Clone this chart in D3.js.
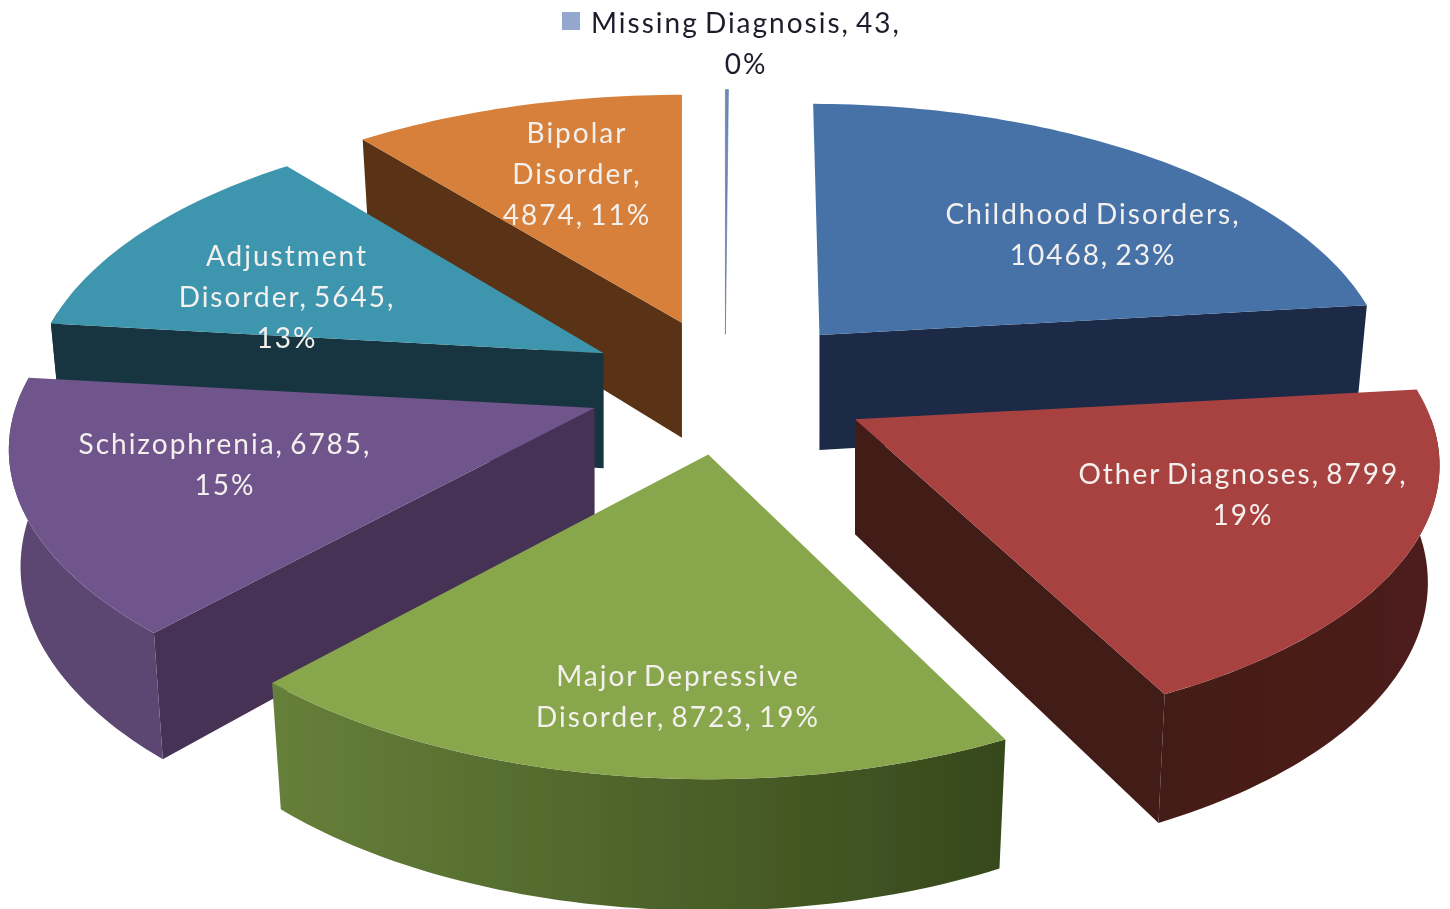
<!DOCTYPE html>
<html>
<head>
<meta charset="utf-8">
<script src="https://cdn.jsdelivr.net/npm/d3@7"></script>
<style>
  html, body { margin: 0; padding: 0; background: #fff; }
  svg { display: block; }
  text { font-family: Lato, "Open Sans", sans-serif; font-size: 28px; text-anchor: middle; letter-spacing: 2px; word-spacing: -3px; }
</style>
</head>
<body>
<div id="chart"></div>
<script>
// Chart data, clockwise from 12 o'clock
const categories = ["Missing Diagnosis", "Childhood Disorders", "Other Diagnoses", "Major Depressive Disorder", "Schizophrenia", "Adjustment Disorder", "Bipolar Disorder"];
const counts = [43, 10468, 8799, 8723, 6785, 5645, 4874];
const percents = [0, 23, 19, 19, 15, 13, 11];
const labelLines = [
    ["Missing Diagnosis, 43,", "0%"],
    ["Childhood Disorders,", "10468, 23%"],
    ["Other Diagnoses, 8799,", "19%"],
    ["Major Depressive", "Disorder, 8723, 19%"],
    ["Schizophrenia, 6785,", "15%"],
    ["Adjustment", "Disorder, 5645,", "13%"],
    ["Bipolar", "Disorder,", "4874, 11%"]
];

// Colours per category: top face, cut wall, rim left, rim right
const topColors = ["#6f8bbd", "#4672a8", "#a84341", "#88a64b", "#6f548c", "#3e96ae", "#d6803a"];
const wallColors = ["#6f8bbd", "#1a2b47", "#431a18", "#374a1c", "#453255", "#17363f", "#5a3312"];
const rimLeft = ["#6f8bbd", "#1a2b47", "#431a18", "#66803a", "#5b4672", "#17363f", "#5a3312"];
const rimRight = ["#6f8bbd", "#1a2b47", "#4e1c1a", "#36481b", "#5b4672", "#17363f", "#5a3312"];

const width = 1450, height = 909;

// Fake 3D: the pie sits on a tilted plane with some perspective
const center = { x: 725, y: 385 };
const radiusX = d3.scaleLinear().domain([-1, 1]).range([-585, 585]);
const radiusY = d3.scaleLinear().domain([-1, 1]).range([-276, 276]);
const perspective = 0.15;
const explode = 0.235;
const depth = 115;

// Per slice fine tuning, the original render is not a clean projection
const apexNudge = [[0, 12], [5, -3], [7, 3], [3, 3], [0, 0], [-3, -1], [1, -3]];
const sliceScale = [[1, 1.02], [0.96, 0.963], [0.985, 0.965], [0.98, 1], [0.99, 0.985], [0.967, 0.97], [0.975, 0.95]];
const sliceShear = [0, 0.04, 0.04, 0, 0, 0, 0];

function project(angle, r) {
    const u = Math.sin(angle) * r;
    const v = -Math.cos(angle) * r;
    const w = 1 / (1 - perspective * v);
    return { x: radiusX(u) * w, y: radiusY(v) * w };
}

const svg = d3.select("#chart").append("svg")
    .attr("width", width)
    .attr("height", height);

const defs = svg.append("defs");
defs.append("filter").attr("id", "soft")
    .append("feGaussianBlur").attr("stdDeviation", 0.6);

const chart = svg.append("g").attr("filter", "url(#soft)");

const pie = d3.pie().value(d => d).sort(null);
const line = d3.line().x(d => d[0]).y(d => d[1]);

const slices = pie(counts).map((d, i) => {
    const mid = (d.startAngle + d.endAngle) / 2;
    const off = project(mid, explode);
    return {
        ...d, i,
        apex: { x: center.x + off.x + apexNudge[i][0], y: center.y + off.y + apexNudge[i][1] }
    };
});

function localPoint(s, angle) {
    const p = project(angle, 1);
    const y = p.y * sliceScale[s.i][1];
    return { x: p.x * sliceScale[s.i][0] + sliceShear[s.i] * y, y: y };
}
function topPoint(s, angle) {
    const p = localPoint(s, angle);
    return [s.apex.x + p.x, s.apex.y + p.y];
}
function bottomPoint(s, angle) {
    const p = localPoint(s, angle);
    return [s.apex.x + p.x * 0.98, s.apex.y + p.y * 1.05 + depth];
}
function arcAngles(a, b) {
    const n = Math.max(2, Math.ceil((b - a) / 0.02));
    return d3.range(n + 1).map(k => a + (b - a) * k / n);
}

// Paint from back to front
const ordered = slices.slice().sort((a, b) => d3.ascending(a.apex.y, b.apex.y));

ordered.forEach(s => {
    const g = chart.append("g");
    const apexTop = [s.apex.x, s.apex.y];
    const apexBottom = [s.apex.x, s.apex.y + depth];

    // Cut walls, only the ones that face the viewer
    [s.startAngle, s.endAngle].forEach((angle, k) => {
        const visible = k === 0 ? Math.sin(angle) < 0 : Math.sin(angle) > 0;
        if (!visible || s.i === 0) return;
        g.append("path")
            .attr("d", line([apexTop, topPoint(s, angle), bottomPoint(s, angle), apexBottom]) + "Z")
            .attr("fill", wallColors[s.i]);
    });

    // Outer rim, front half only
    const a0 = Math.max(s.startAngle, Math.PI / 2);
    const a1 = Math.min(s.endAngle, Math.PI * 1.55);
    if (a1 > a0) {
        const gradId = "rim" + s.i;
        const grad = defs.append("linearGradient").attr("id", gradId)
            .attr("gradientUnits", "userSpaceOnUse")
            .attr("x1", d3.min([topPoint(s, a0)[0], topPoint(s, a1)[0]]))
            .attr("x2", d3.max([topPoint(s, a0)[0], topPoint(s, a1)[0]]))
            .attr("y1", 0).attr("y2", 0);
        grad.append("stop").attr("offset", 0).attr("stop-color", rimLeft[s.i]);
        grad.append("stop").attr("offset", 1).attr("stop-color", rimRight[s.i]);

        const angles = arcAngles(a0, a1);
        const pts = angles.map(a => topPoint(s, a))
            .concat(angles.slice().reverse().map(a => bottomPoint(s, a)));
        g.append("path")
            .attr("d", line(pts) + "Z")
            .attr("fill", `url(#${gradId})`);
    }

    // Top face
    const topPts = [apexTop].concat(arcAngles(s.startAngle, s.endAngle).map(a => topPoint(s, a)));
    g.append("path")
        .attr("d", line(topPts) + "Z")
        .attr("fill", topColors[s.i])
        .attr("stroke", s.i === 0 ? "#4a6496" : "none")
        .attr("stroke-width", s.i === 0 ? 0.5 : 0);
});

// Labels: centre x and first baseline, one per category
const labelAnchors = [[746, 33], [1093, 224], [1243, 484], [678, 686], [225, 454], [287, 266], [577, 143]];
const lineGap = 41;

labelLines.forEach((lines, i) => {
    const t = chart.append("text")
        .attr("fill", i === 0 ? "#1c1c2c" : "#f4f0ee");
    lines.forEach((txt, k) => {
        t.append("tspan")
            .attr("x", labelAnchors[i][0])
            .attr("y", labelAnchors[i][1] + k * lineGap)
            .text(txt);
    });
});

// Small legend key in front of the one outside label
chart.append("rect")
    .attr("x", 562).attr("y", 12)
    .attr("width", 18).attr("height", 18)
    .attr("fill", "#94a8cf");
</script>
</body>
</html>
